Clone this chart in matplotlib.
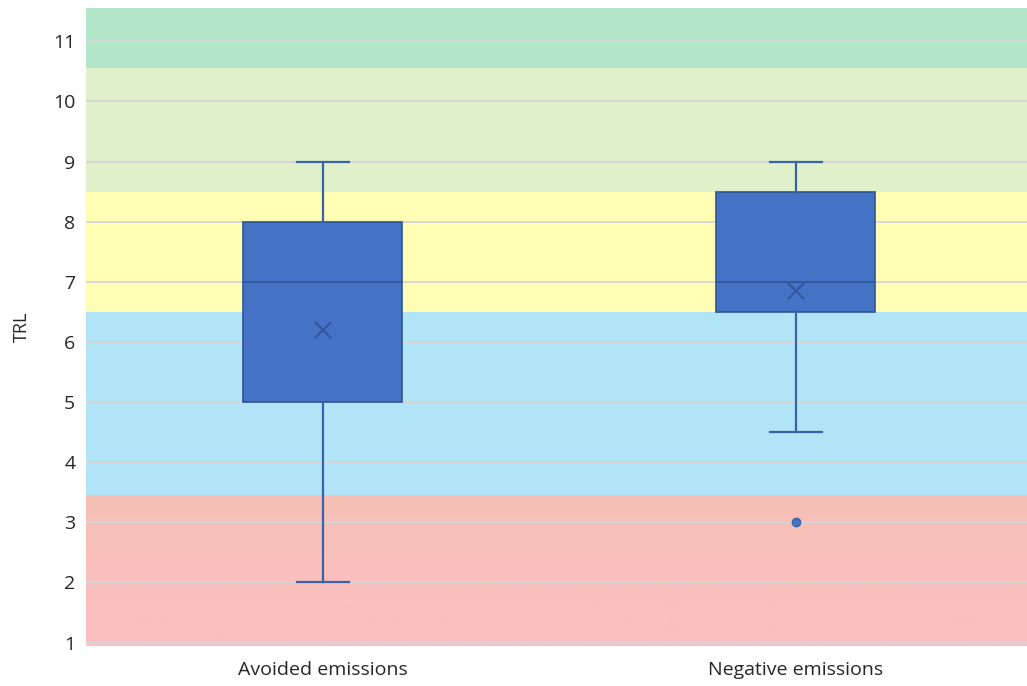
import matplotlib
matplotlib.use("Agg")
import matplotlib.pyplot as plt
import numpy as np
from matplotlib.colors import LinearSegmentedColormap

plt.rcParams['font.family'] = ['Open Sans', 'DejaVu Sans']

# Box-plot summary statistics per pathway
categories = ["Avoided emissions", "Negative emissions"]
whisker_low = [2.0, 4.5]
q1 = [5.0, 6.5]
median = [7.0, 7.0]
q3 = [8.0, 8.5]
whisker_high = [9.0, 9.0]
means = [6.2, 6.85]
outliers = [[], [3.0]]

# TRL readiness bands (lower, upper, colour)
band_edges = [0.95, 3.45, 6.5, 8.5, 10.55, 11.55]
band_colors = ["#fbbfbf", "#b1e4f6", "#fffeb4", "#dff0ca", "#b2e6c8"]

yticks = list(range(1, 12))

fig = plt.figure(figsize=(10.27, 6.86), dpi=100)
ax = fig.add_axes([0.0842, 0.059, 0.921, 0.929])

ax.set_xlim(0, 2)
ax.set_ylim(band_edges[0], band_edges[-1])

# coloured bands
for lo, hi, c in zip(band_edges[1:-1], band_edges[2:], band_colors[1:]):
    ax.axhspan(lo, hi, color=c, zorder=0, lw=0)
# red band with a soft vertical gradient
red_cmap = LinearSegmentedColormap.from_list("red", ["#fcbfc0", "#f9bfbd", "#f5c0b5"])
grad = np.linspace(0, 1, 256).reshape(-1, 1)
ax.imshow(grad, cmap=red_cmap, aspect="auto", origin="lower",
          extent=[0, 2, band_edges[0], band_edges[1]], zorder=0)

ax.set_yticks(yticks)
ax.grid(axis="y", color="#d6d6d6", lw=1.4, zorder=1)
ax.set_axisbelow(True)

stats = []
for i in range(len(categories)):
    stats.append(dict(label=categories[i], whislo=whisker_low[i], q1=q1[i],
                      med=median[i], q3=q3[i], whishi=whisker_high[i],
                      mean=means[i], fliers=outliers[i]))

positions = [0.5, 1.5]
edge = "#3a62a8"
ax.bxp(stats, positions=positions, widths=0.336, patch_artist=True,
       showmeans=True, meanline=False,
       boxprops=dict(facecolor="#4472c4", edgecolor="#2f5597", lw=1.2),
       medianprops=dict(color="#2f5597", lw=1.2),
       whiskerprops=dict(color=edge, lw=1.6),
       capprops=dict(color=edge, lw=1.6),
       capwidths=0.11,
       meanprops=dict(marker="x", markeredgecolor="#2f5597", markersize=11,
                      markeredgewidth=1.3),
       flierprops=dict(marker="o", markerfacecolor="#4472c4",
                       markeredgecolor="#3a62a8", markersize=6),
       manage_ticks=False)

ax.set_xticks(positions)
ax.set_xticklabels(categories)

for s in ax.spines.values():
    s.set_visible(False)
ax.tick_params(axis="both", length=0, labelsize=14, colors="#262626", pad=8)
ax.tick_params(axis="x", pad=11)
ax.set_ylabel("TRL", fontsize=13, color="#262626", labelpad=16)

fig.savefig("out.png", dpi=100)
